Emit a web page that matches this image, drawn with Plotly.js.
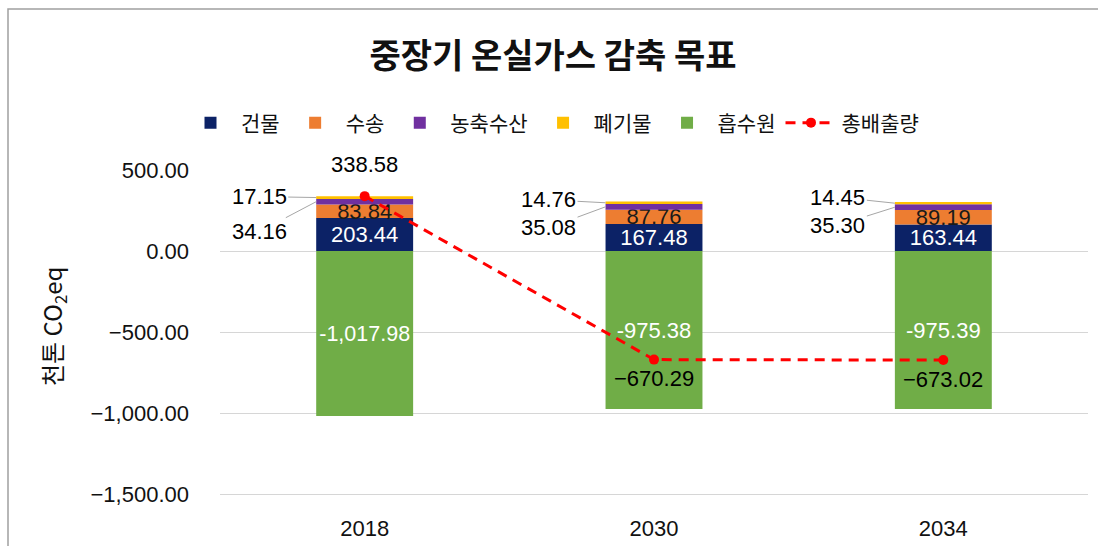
<!DOCTYPE html>
<html>
<head>
<meta charset="utf-8">
<script src="https://cdn.plot.ly/plotly-3.0.1.min.js"></script>
<style>
  html, body { margin: 0; padding: 0; background: #ffffff; }
  #chart { width: 1098px; height: 546px; }
</style>
</head>
<body>
<div id="chart"></div>
<script>
// ---- data ----
const years = ['2018', '2030', '2034'];
const building = [203.44, 167.48, 163.44];   // 건물
const transport = [83.84, 87.76, 89.19];     // 수송
const agriculture = [34.16, 35.08, 35.30];   // 농축수산
const waste = [17.15, 14.76, 14.45];         // 폐기물
const sink = [-1017.98, -975.38, -975.39];   // 흡수원
const total = [338.58, -670.29, -673.02];    // 총배출량

const seriesNames = ['건물', '수송', '농축수산', '폐기물', '흡수원', '총배출량'];
const yTitle = '천톤 CO<sub>2</sub>eq';
const chartTitle = '중장기 온실가스 감축 목표';

// ---- styles / label offsets (pixels) ----
const colors = ['#0c2266', '#ed7d31', '#7030a0', '#ffc000', '#70ad47', '#ff0000'];
const wasteLabelDy = [-1, -3, -6];
const agriLabelDy = [30, 21, 18];
const totalLabelShift = [32, -19, -19];
const barWidthFrac = 0.335;

const FONT = 'Liberation Sans, Arial, "Noto Sans CJK KR", sans-serif';
const KFONT = '"Noto Sans CJK KR", "Noto Sans", sans-serif';

function fmt(v) {
  const s = Math.abs(v).toLocaleString('en-US', {minimumFractionDigits: 2, maximumFractionDigits: 2});
  return (v < 0 ? '\u2212' : '') + s;
}

function barTrace(idx, vals, textColor, showText, constrain) {
  const t = {
    type: 'bar', name: seriesNames[idx], x: years, y: vals,
    marker: {color: colors[idx], line: {width: 0}},
    hoverinfo: 'name+y'
  };
  if (showText) {
    t.texttemplate = '%{y:,.2f}';
    t.textposition = 'inside';
    t.insidetextanchor = 'middle';
    t.textangle = 0;
    t.constraintext = constrain;
    t.textfont = {family: FONT, size: 22, color: textColor};
  } else {
    t.textposition = 'none';
  }
  return t;
}

const traces = [
  barTrace(0, building, '#ffffff', true, 'none'),
  barTrace(1, transport, '#1a1a1a', true, 'none'),
  barTrace(2, agriculture, '#000000', false),
  barTrace(3, waste, '#000000', false),
  barTrace(4, sink, '#ffffff', true, 'inside'),
  {
    type: 'scatter', mode: 'lines+markers', name: seriesNames[5],
    x: years, y: total,
    line: {color: colors[5], width: 3, dash: '10px,7px'},
    marker: {color: colors[5], size: 10},
    hoverinfo: 'name+y'
  }
];

// plot area in pixels: left 220, right 1088, top 170, bottom 513
const PL = 220, PR = 1088, PT = 170, PB = 513;
const px = v => (v - PL) / (PR - PL);
const py = v => (PB - v) / (PB - PT);

const annotations = [];
const half = barWidthFrac / 2;
years.forEach((yr, i) => {
  const base = building[i] + transport[i];
  // 폐기물 label with leader line
  annotations.push({
    x: i - half, y: base + agriculture[i] + waste[i] / 2, xref: 'x', yref: 'y',
    text: fmt(waste[i]), showarrow: true, arrowhead: 0, arrowwidth: 1, arrowcolor: '#a6a6a6',
    ax: -57, ay: wasteLabelDy[i], standoff: 0,
    font: {family: FONT, size: 22, color: '#000'}
  });
  // 농축수산 label with leader line
  annotations.push({
    x: i - half, y: base + agriculture[i] / 2, xref: 'x', yref: 'y',
    text: fmt(agriculture[i]), showarrow: true, arrowhead: 0, arrowwidth: 1, arrowcolor: '#a6a6a6',
    ax: -57, ay: agriLabelDy[i], standoff: 0,
    font: {family: FONT, size: 22, color: '#000'}
  });
  // 총배출량 label
  annotations.push({
    x: i, y: total[i], xref: 'x', yref: 'y',
    text: fmt(total[i]), showarrow: false, yshift: totalLabelShift[i],
    font: {family: FONT, size: 22, color: '#000'}
  });
});
// y-axis title (placed like the reference)
annotations.push({
  xref: 'paper', yref: 'paper', x: px(53), y: py(327), xanchor: 'center', yanchor: 'middle',
  text: yTitle, textangle: -90, showarrow: false,
  font: {family: KFONT, size: 24, color: '#111'}
});

const layout = {
  width: 1098, height: 546,
  margin: {l: PL, r: 1098 - PR, t: PT, b: 546 - PB, pad: 0},
  paper_bgcolor: '#ffffff', plot_bgcolor: '#ffffff',
  barmode: 'relative',
  bargap: 1 - barWidthFrac,
  font: {family: FONT, color: '#111'},
  title: {
    text: '<b>' + chartTitle + '</b>',
    font: {family: KFONT, size: 34, color: '#111'},
    x: 553 / 1098, xref: 'container', xanchor: 'center',
    y: 1 - 56 / 546, yref: 'container', yanchor: 'middle'
  },
  showlegend: true,
  legend: {
    orientation: 'h', x: px(180), xanchor: 'left', y: py(123), yanchor: 'middle',
    font: {family: KFONT, size: 21, color: '#111'},
    itemwidth: 51, traceorder: 'normal', bgcolor: 'rgba(0,0,0,0)',
    itemclick: false, itemdoubleclick: false
  },
  xaxis: {
    type: 'category', categoryorder: 'array', categoryarray: years,
    showgrid: false, zeroline: false, showline: false, ticks: '',
    tickfont: {family: FONT, size: 22, color: '#111'}
  },
  yaxis: {
    range: [-1617, 500], dtick: 500, tick0: 0,
    tickformat: ',.2f',
    showgrid: true, gridcolor: '#d6d6d6', gridwidth: 1,
    zeroline: false, showline: false, ticks: '',
    ticklabelstandoff: 30,
    tickfont: {family: FONT, size: 22, color: '#111'},
    automargin: false
  },
  annotations: annotations,
  shapes: [{
    type: 'rect', xref: 'paper', yref: 'paper',
    x0: px(8), x1: px(1105), y0: py(560), y1: py(9),
    line: {color: '#a0a0a0', width: 1.5}, fillcolor: 'rgba(0,0,0,0)', layer: 'below'
  }]
};

Plotly.newPlot('chart', traces, layout, {displayModeBar: false, staticPlot: true});
</script>
</body>
</html>
